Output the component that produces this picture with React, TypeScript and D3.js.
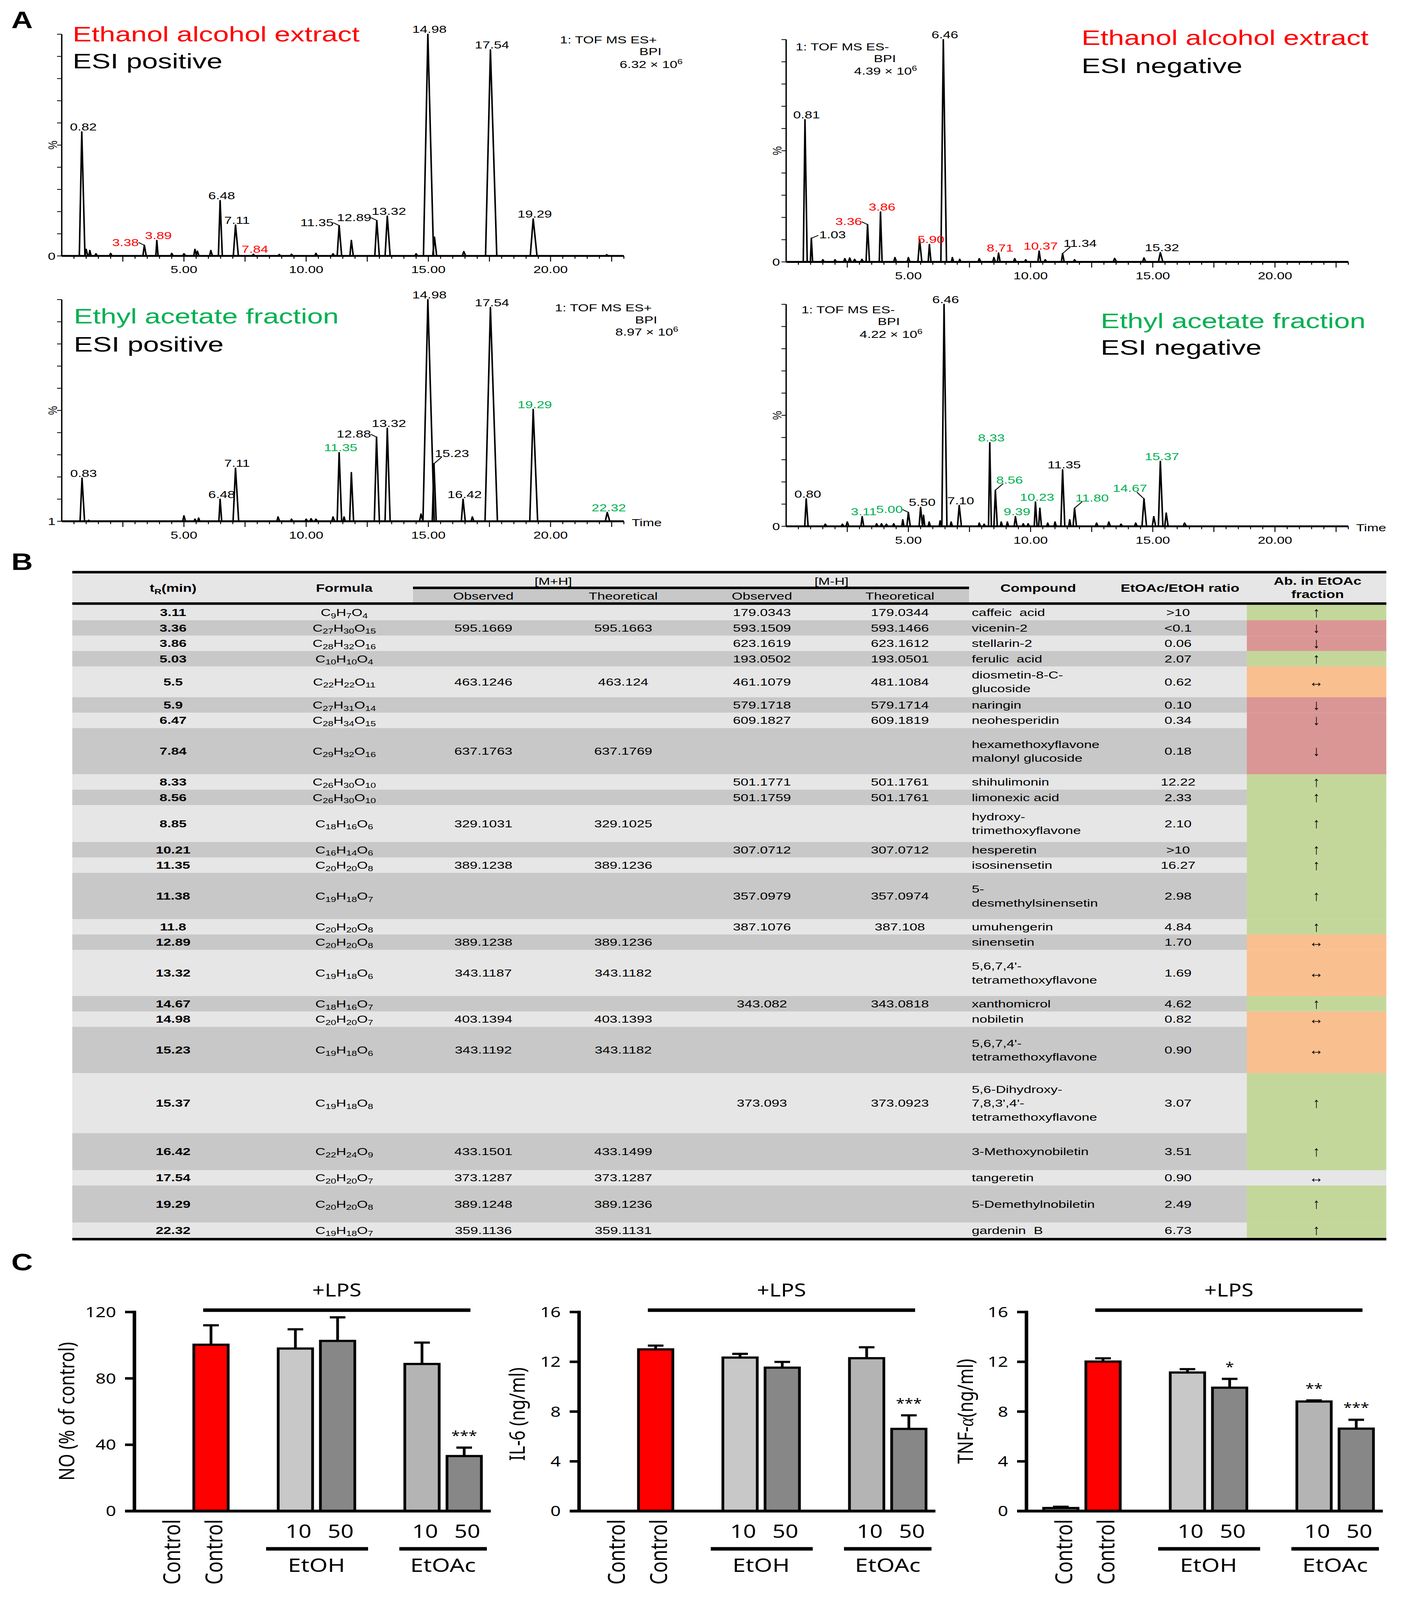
import React from 'react';
import * as d3 from 'd3';

type Peak = [number, number, number]; // retention time (min), relative height, half width (min)
type PeakLabel = [string, string, string?]; // text, colour code, leader style

const SANS = "'Liberation Sans', Arial, sans-serif";
const NOTO = "'Noto Sans', 'Open Sans', sans-serif";
const RED = '#ff0000';
const GREEN = '#00b050';
const SX = 1.1; // source figure is slightly stretched horizontally

// ---------- A: base peak chromatograms ----------
const minutesMax = 23;
const timeTicks = [5, 10, 15, 20];

const posEtOHPeaks: Peak[] = [
  [0.82, 0.56, 0.1], [1.0, 0.03, 0.05], [1.15, 0.025, 0.04], [1.4, 0.01, 0.05], [2.0, 0.012, 0.05],
  [3.38, 0.048, 0.06], [3.89, 0.07, 0.04], [4.5, 0.012, 0.05], [5.0, 0.01, 0.06], [5.45, 0.03, 0.05],
  [5.55, 0.022, 0.05], [6.1, 0.025, 0.05], [6.48, 0.25, 0.07], [7.11, 0.14, 0.09], [7.84, 0.008, 0.05],
  [8.9, 0.007, 0.05], [9.4, 0.008, 0.05], [10.4, 0.012, 0.05], [11.1, 0.01, 0.05], [11.35, 0.137, 0.08],
  [11.85, 0.07, 0.06], [12.89, 0.16, 0.08], [13.32, 0.18, 0.09], [14.5, 0.01, 0.05], [14.98, 1.0, 0.18],
  [15.25, 0.085, 0.07], [16.45, 0.02, 0.06], [17.54, 0.93, 0.2], [19.29, 0.167, 0.12], [22.3, 0.006, 0.05],
];
const posEtOHLabels: PeakLabel[] = [
  ['0.82', 'k'], ['3.38', 'r', 'l'], ['3.89', 'r'], ['6.48', 'k'], ['7.11', 'k'], ['7.84', 'r'],
  ['11.35', 'k', 'l'], ['12.89', 'k', 'l'], ['13.32', 'k'], ['14.98', 'k'], ['17.54', 'k'], ['19.29', 'k'],
];

const negEtOHPeaks: Peak[] = [
  [0.77, 0.64, 0.07], [1.03, 0.107, 0.04], [1.5, 0.01, 0.05], [2.0, 0.01, 0.05], [2.4, 0.015, 0.05],
  [2.6, 0.018, 0.05], [2.8, 0.012, 0.05], [3.1, 0.012, 0.05], [3.33, 0.168, 0.06], [3.86, 0.225, 0.05],
  [4.45, 0.02, 0.05], [5.0, 0.02, 0.05], [5.46, 0.099, 0.07], [5.86, 0.079, 0.05], [6.43, 1.0, 0.1],
  [6.8, 0.02, 0.04], [7.1, 0.012, 0.04], [7.9, 0.015, 0.05], [8.5, 0.02, 0.05], [8.69, 0.04, 0.05],
  [9.35, 0.015, 0.05], [9.8, 0.01, 0.05], [10.35, 0.049, 0.05], [10.6, 0.01, 0.05], [11.31, 0.038, 0.05],
  [11.8, 0.01, 0.05], [13.44, 0.016, 0.06], [14.64, 0.018, 0.06], [15.31, 0.042, 0.08],
];
const negEtOHLabels: PeakLabel[] = [
  ['0.81', 'k'], ['1.03', 'k', 'r'], ['3.36', 'r', 'l'], ['3.86', 'r'], ['5.90', 'r'], ['6.46', 'k'],
  ['8.71', 'r'], ['10.37', 'r'], ['11.34', 'k', 'ur'], ['15.32', 'k'],
];

const posEtOAcPeaks: Peak[] = [
  [0.83, 0.195, 0.08], [1.1, 0.005, 0.04], [5.0, 0.025, 0.05], [5.45, 0.01, 0.04], [5.6, 0.015, 0.04],
  [6.48, 0.1, 0.05], [7.11, 0.24, 0.1], [8.85, 0.02, 0.05], [9.4, 0.01, 0.04], [10.0, 0.01, 0.05],
  [10.2, 0.012, 0.05], [10.4, 0.01, 0.05], [11.1, 0.02, 0.05], [11.35, 0.31, 0.08], [11.55, 0.02, 0.04],
  [11.85, 0.22, 0.07], [12.88, 0.38, 0.09], [13.32, 0.42, 0.09], [14.7, 0.033, 0.06], [14.98, 1.0, 0.2],
  [15.23, 0.26, 0.07], [16.42, 0.1, 0.07], [16.8, 0.02, 0.05], [17.54, 0.965, 0.22], [19.29, 0.505, 0.14],
  [22.32, 0.04, 0.08],
];
const posEtOAcLabels: PeakLabel[] = [
  ['0.83', 'k'], ['6.48', 'k'], ['7.11', 'k'], ['11.35', 'g'], ['12.88', 'k', 'l'], ['13.32', 'k'],
  ['14.98', 'k'], ['15.23', 'k', 'ur'], ['16.42', 'k'], ['17.54', 'k'], ['19.29', 'g'], ['22.32', 'g'],
];

const negEtOAcPeaks: Peak[] = [
  [0.82, 0.124, 0.06], [1.6, 0.01, 0.05], [2.3, 0.01, 0.05], [2.5, 0.02, 0.05], [3.11, 0.044, 0.05],
  [3.7, 0.012, 0.04], [3.9, 0.012, 0.04], [4.1, 0.01, 0.04], [4.4, 0.012, 0.04], [4.77, 0.03, 0.04],
  [5.0, 0.063, 0.06], [5.5, 0.086, 0.06], [5.62, 0.05, 0.04], [5.85, 0.02, 0.04], [6.3, 0.025, 0.04],
  [6.46, 1.0, 0.09], [6.75, 0.02, 0.04], [7.08, 0.094, 0.07], [7.9, 0.015, 0.04], [8.1, 0.01, 0.04],
  [8.33, 0.377, 0.05], [8.56, 0.163, 0.06], [8.8, 0.02, 0.04], [9.05, 0.02, 0.04], [9.38, 0.044, 0.05],
  [9.7, 0.012, 0.04], [9.9, 0.012, 0.04], [10.2, 0.11, 0.05], [10.38, 0.082, 0.05], [10.7, 0.015, 0.04],
  [11.0, 0.02, 0.04], [11.31, 0.255, 0.07], [11.6, 0.03, 0.04], [11.8, 0.082, 0.06], [12.7, 0.015, 0.05],
  [13.2, 0.02, 0.05], [13.7, 0.01, 0.05], [14.3, 0.015, 0.05], [14.64, 0.124, 0.08], [15.04, 0.044, 0.06],
  [15.31, 0.293, 0.08], [15.55, 0.06, 0.06], [16.3, 0.015, 0.06],
];
const negEtOAcLabels: PeakLabel[] = [
  ['0.80', 'k'], ['3.11', 'g'], ['5.00', 'g', 'l'], ['5.50', 'k'], ['6.46', 'k'], ['7.10', 'k'],
  ['8.33', 'g'], ['8.56', 'g', 'ur'], ['9.39', 'g'], ['10.23', 'g'], ['11.35', 'k'], ['11.80', 'g', 'ur'],
  ['14.67', 'g', 'ul'], ['15.37', 'g'],
];

// ---------- B: table ----------
const rtValues = ['3.11', '3.36', '3.86', '5.03', '5.5', '5.9', '6.47', '7.84', '8.33', '8.56', '8.85', '10.21', '11.35', '11.38', '11.8', '12.89', '13.32', '14.67', '14.98', '15.23', '15.37', '16.42', '17.54', '19.29', '22.32'];
const formulas = ['C9H7O4', 'C27H30O15', 'C28H32O16', 'C10H10O4', 'C22H22O11', 'C27H31O14', 'C28H34O15', 'C29H32O16', 'C26H30O10', 'C26H30O10', 'C18H16O6', 'C16H14O6', 'C20H20O8', 'C19H18O7', 'C20H20O8', 'C20H20O8', 'C19H18O6', 'C18H16O7', 'C20H20O7', 'C19H18O6', 'C19H18O8', 'C22H24O9', 'C20H20O7', 'C20H20O8', 'C19H18O7'];
const mhObserved = ['', '595.1669', '', '', '463.1246', '', '', '637.1763', '', '', '329.1031', '', '389.1238', '', '', '389.1238', '343.1187', '', '403.1394', '343.1192', '', '433.1501', '373.1287', '389.1248', '359.1136'];
const mhTheoretical = ['', '595.1663', '', '', '463.124', '', '', '637.1769', '', '', '329.1025', '', '389.1236', '', '', '389.1236', '343.1182', '', '403.1393', '343.1182', '', '433.1499', '373.1287', '389.1236', '359.1131'];
const mmhObserved = ['179.0343', '593.1509', '623.1619', '193.0502', '461.1079', '579.1718', '609.1827', '', '501.1771', '501.1759', '', '307.0712', '', '357.0979', '387.1076', '', '', '343.082', '', '', '373.093', '', '', '', ''];
const mmhTheoretical = ['179.0344', '593.1466', '623.1612', '193.0501', '481.1084', '579.1714', '609.1819', '', '501.1761', '501.1761', '', '307.0712', '', '357.0974', '387.108', '', '', '343.0818', '', '', '373.0923', '', '', '', ''];
const compounds = ['caffeic  acid', 'vicenin-2', 'stellarin-2', 'ferulic  acid', 'diosmetin-8-C-\nglucoside', 'naringin', 'neohesperidin', 'hexamethoxyflavone\nmalonyl glucoside', 'shihulimonin', 'limonexic acid', 'hydroxy-\ntrimethoxyflavone', 'hesperetin', 'isosinensetin', '5-\ndesmethylsinensetin', 'umuhengerin', 'sinensetin', "5,6,7,4'-\ntetramethoxyflavone", 'xanthomicrol', 'nobiletin', "5,6,7,4'-\ntetramethoxyflavone", "5,6-Dihydroxy-\n7,8,3',4'-\ntetramethoxyflavone", '3-Methoxynobiletin', 'tangeretin', '5-Demethylnobiletin', 'gardenin  B'];
const ratios = ['>10', '<0.1', '0.06', '2.07', '0.62', '0.10', '0.34', '0.18', '12.22', '2.33', '2.10', '>10', '16.27', '2.98', '4.84', '1.70', '1.69', '4.62', '0.82', '0.90', '3.07', '3.51', '0.90', '2.49', '6.73'];
const abundance = ['up', 'down', 'down', 'up', 'same', 'down', 'down', 'down', 'up', 'up', 'up', 'up', 'up', 'up', 'up', 'same', 'same', 'up', 'same', 'same', 'up', 'up', 'flat', 'up', 'up'];

// ---------- C: bar charts ----------
const slots = ['Control', 'LPS', 'gap1', 'EtOH 10', 'EtOH 50', 'gap2', 'EtOAc 10', 'EtOAc 50'];
const treatments = ['Control', 'LPS', 'EtOH 10', 'EtOH 50', 'EtOAc 10', 'EtOAc 50'];
const noMean = [0, 100.3, 98.0, 102.6, 88.7, 33.2];
const noErr = [0, 11.7, 11.6, 14.2, 12.9, 5.1];
const noSig = ['', '', '', '', '', '***'];
const il6Mean = [0, 13.0, 12.34, 11.53, 12.29, 6.61];
const il6Err = [0, 0.3, 0.3, 0.46, 0.88, 1.09];
const il6Sig = ['', '', '', '', '', '***'];
const tnfMean = [0.25, 12.02, 11.14, 9.92, 8.81, 6.63];
const tnfErr = [0.1, 0.26, 0.27, 0.71, 0.09, 0.71];
const tnfSig = ['', '', '', '*', '**', '***'];

const barFill: Record<string, string> = {
  Control: '#8a8a8a', LPS: RED, 'EtOH 10': '#c8c8c8', 'EtOH 50': '#878787', 'EtOAc 10': '#b4b4b4', 'EtOAc 50': '#878787',
};

function Txt({ x, y, children, size = 32, anchor = 'start', fill = '#000', weight = 'normal', sx = SX, family = SANS, rotate = 0, baseline }: any) {
  const t = `translate(${x},${y})` + (rotate ? ` rotate(${rotate})` : '') + (sx !== 1 ? ` scale(${sx},1)` : '');
  return (
    <text transform={t} fontSize={size} textAnchor={anchor} fill={fill} fontWeight={weight} fontFamily={family} dominantBaseline={baseline}>
      {children}
    </text>
  );
}

interface ChromProps {
  x0: number; y0: number; yTop: number;
  peaks: Peak[]; labels: PeakLabel[];
  zero: string;
  title: string; titleColor: string; subtitle: string; titleX: number; titleY: number; subY: number;
  mode: string; bpi: string; infoX: number[]; infoY: number[];
  time?: boolean;
}

const colourOf = (c: string) => (c === 'r' ? RED : c === 'g' ? GREEN : '#000');

function Chromatogram(p: ChromProps) {
  const x = d3.scaleLinear().domain([0, minutesMax]).range([p.x0, p.x0 + minutesMax * 62.55]);
  const y = d3.scaleLinear().domain([0, 1]).range([p.y0, p.yTop]);
  const line = d3.line<[number, number]>().x(d => x(d[0])).y(d => y(d[1]));
  const halfMin = d3.range(1, minutesMax * 2 + 1);
  const yt = d3.range(0, 11).map(i => i / 10);
  return (
    <g>
      {p.peaks.map(([t, h, w], i) => (
        <path key={i} d={line([[t - w, 0], [t, h], [t + w * 1.3, 0]]) || ''} fill="none" stroke="#000" strokeWidth={4} strokeLinejoin="round" />
      ))}
      <line x1={p.x0} x2={x(minutesMax)} y1={p.y0} y2={p.y0} stroke="#000" strokeWidth={6} />
      <line x1={p.x0} x2={p.x0} y1={p.yTop} y2={p.y0} stroke="#000" strokeWidth={3.5} />
      {halfMin.map(i => (
        <line key={i} x1={x(i / 2)} x2={x(i / 2)} y1={p.y0} y2={p.y0 + (i % 5 === 0 ? 18 : 9)} stroke="#000" strokeWidth={2.5} />
      ))}
      {yt.map(v => (
        <line key={v} x1={p.x0 - 12} x2={p.x0} y1={y(v)} y2={y(v)} stroke="#000" strokeWidth={2.5} />
      ))}
      {timeTicks.map(t => (
        <Txt key={t} x={x(t)} y={p.y0 + 55} anchor="middle">{t.toFixed(2)}</Txt>
      ))}
      <Txt x={p.x0 - 16} y={p.y0 + 12} anchor="end">{p.zero}</Txt>
      <Txt x={p.x0 - 12} y={(p.y0 + p.yTop) / 2} anchor="middle" rotate={-90} sx={1}>%</Txt>
      {p.time && <Txt x={x(minutesMax) + 20} y={p.y0 + 16}>Time</Txt>}

      {p.labels.map(([txt, c, lead], i) => {
        const v = +txt;
        const pk = p.peaks.reduce((a, b) => (Math.abs(b[0] - v) < Math.abs(a[0] - v) ? b : a));
        const px = x(pk[0]);
        const py = y(pk[1]);
        let tx = px + 4;
        let ty = py - 4;
        let anchor = 'middle';
        let ln: number[] | null = null;
        if (lead === 'l') { tx = px - 14; ty = py + 2; anchor = 'end'; ln = [px - 15, py - 9, px, py]; }
        if (lead === 'r') { tx = px + 20; ty = py; anchor = 'start'; ln = [px + 1, py, px + 18, py - 9]; }
        if (lead === 'ur') { tx = px + 2; ty = py - 21; anchor = 'start'; ln = [px, py, px + 20, py - 21]; }
        if (lead === 'ul') { tx = px + 8; ty = py - 22; anchor = 'end'; ln = [px, py, px - 18, py - 21]; }
        return (
          <g key={i}>
            {ln && <line x1={ln[0]} y1={ln[1]} x2={ln[2]} y2={ln[3]} stroke="#000" strokeWidth={2.5} />}
            <Txt x={tx} y={ty} anchor={anchor} fill={colourOf(c)}>{txt}</Txt>
          </g>
        );
      })}

      <Txt x={p.titleX} y={p.titleY} size={66} fill={p.titleColor}>{p.title}</Txt>
      <Txt x={p.titleX} y={p.subY} size={66}>{p.subtitle}</Txt>
      <Txt x={p.infoX[0]} y={p.infoY[0]}>{p.mode}</Txt>
      <Txt x={p.infoX[1]} y={p.infoY[1]} anchor="end">BPI</Txt>
      <Txt x={p.infoX[2]} y={p.infoY[2]} anchor="end">
        {p.bpi} × 10<tspan fontSize={22} dy={-13}>6</tspan>
      </Txt>
    </g>
  );
}

// ---------- table helpers ----------
const TSX = 1.08;
const FS = 33;

function Formula({ f }: { f: string }) {
  const parts = f.match(/[A-Z][a-z]?|\d+/g) || [];
  return (
    <>
      {parts.map((s, i) => {
        const sub = /\d/.test(s);
        const prevSub = i > 0 && /\d/.test(parts[i - 1]);
        return (
          <tspan key={i} fontSize={sub ? 23 : FS} dy={sub ? 7 : prevSub ? -7 : 0}>{s}</tspan>
        );
      })}
    </>
  );
}

const rowUnits = [1, 1, 1, 1, 2, 1, 1, 3, 1, 1, 2.4, 1, 1, 3, 1, 1, 3, 1, 1, 3, 3.9, 2.4, 1, 2.4, 1];
const abFill: Record<string, string> = { up: '#c4d79b', down: '#da9694', same: '#fabf8f', flat: 'none' };
const abArrow: Record<string, string> = { up: '↑', down: '↓', same: '↔', flat: '↔' };

function Table() {
  const left = 185;
  const right = 3548;
  const U = 49.05;
  const top = 1926;
  const starts = [0, ...Array.from(d3.cumsum(rowUnits))];
  const col = { rt: 443, formula: 881, obsP: 1237, theoP: 1595, obsN: 1950, theoN: 2303, compound: 2487, ratio: 3015, ab: 3369, abLeft: 3191 };
  const tableBottom = top + starts[rowUnits.length] * U;
  return (
    <g>
      <rect x={left} y={1826} width={right - left} height={92} fill="#e6e6e6" />
      <rect x={1057} y={1876} width={2480 - 1057} height={42} fill="#c8c8c8" />
      {rtValues.map((_, i) => {
        const y0 = top + starts[i] * U;
        const h = rowUnits[i] * U;
        return (
          <g key={i}>
            <rect x={left} y={y0} width={right - left} height={h + 0.5} fill={i % 2 === 0 ? '#e6e6e6' : '#c8c8c8'} />
            {abFill[abundance[i]] !== 'none' && (
              <rect x={col.abLeft} y={y0} width={right - col.abLeft} height={h + 0.5} fill={abFill[abundance[i]]} />
            )}
          </g>
        );
      })}
      <rect x={left} y={1818} width={right - left} height={8} fill="#000" />
      <rect x={left} y={1918} width={right - left} height={8} fill="#000" />
      <rect x={1057} y={1868} width={2480 - 1057} height={8} fill="#000" />
      <rect x={left} y={tableBottom} width={right - left} height={8} fill="#000" />

      <Txt x={col.rt} y={1885} size={34} weight="bold" anchor="middle" sx={TSX}>
        <tspan>t</tspan><tspan fontSize={23} dy={7}>R</tspan><tspan dy={-7}>(min)</tspan>
      </Txt>
      <Txt x={col.formula} y={1885} size={34} weight="bold" anchor="middle" sx={TSX}>Formula</Txt>
      <Txt x={1416} y={1862} size={FS} anchor="middle" sx={TSX}>[M+H]</Txt>
      <Txt x={2128} y={1862} size={FS} anchor="middle" sx={TSX}>[M-H]</Txt>
      <Txt x={col.obsP} y={1909} size={FS} anchor="middle" sx={TSX}>Observed</Txt>
      <Txt x={col.theoP} y={1909} size={FS} anchor="middle" sx={TSX}>Theoretical</Txt>
      <Txt x={col.obsN} y={1909} size={FS} anchor="middle" sx={TSX}>Observed</Txt>
      <Txt x={col.theoN} y={1909} size={FS} anchor="middle" sx={TSX}>Theoretical</Txt>
      <Txt x={2657} y={1885} size={34} weight="bold" anchor="middle" sx={TSX}>Compound</Txt>
      <Txt x={3020} y={1885} size={34} weight="bold" anchor="middle" sx={TSX}>EtOAc/EtOH  ratio</Txt>
      <Txt x={3372} y={1862} size={34} weight="bold" anchor="middle" sx={TSX}>Ab. in EtOAc</Txt>
      <Txt x={3372} y={1905} size={34} weight="bold" anchor="middle" sx={TSX}>fraction</Txt>

      {rtValues.map((rt, i) => {
        const cy = top + (starts[i] + rowUnits[i] / 2) * U;
        const by = cy + 11.5;
        const lines = compounds[i].split('\n');
        return (
          <g key={i}>
            <Txt x={col.rt} y={by} size={FS} weight="bold" anchor="middle" sx={TSX}>{rt}</Txt>
            <Txt x={col.formula} y={by} size={FS} anchor="middle" sx={TSX}><Formula f={formulas[i]} /></Txt>
            <Txt x={col.obsP} y={by} size={FS} anchor="middle" sx={TSX}>{mhObserved[i]}</Txt>
            <Txt x={col.theoP} y={by} size={FS} anchor="middle" sx={TSX}>{mhTheoretical[i]}</Txt>
            <Txt x={col.obsN} y={by} size={FS} anchor="middle" sx={TSX}>{mmhObserved[i]}</Txt>
            <Txt x={col.theoN} y={by} size={FS} anchor="middle" sx={TSX}>{mmhTheoretical[i]}</Txt>
            {lines.map((l, k) => (
              <Txt key={k} x={col.compound} y={by + (k - (lines.length - 1) / 2) * 44} size={FS} sx={TSX}>
                <tspan style={{ whiteSpace: 'pre' }}>{l}</tspan>
              </Txt>
            ))}
            <Txt x={col.ratio} y={by} size={FS} anchor="middle" sx={TSX}>{ratios[i]}</Txt>
            <Txt x={col.ab} y={cy + 15} size={46} anchor="middle" sx={0.8}>{abArrow[abundance[i]]}</Txt>
          </g>
        );
      })}
    </g>
  );
}

// ---------- bar chart ----------
interface BarProps {
  axisX: number; yMax: number; ticks: number[];
  means: number[]; errs: number[]; sig: string[];
  yLabel: React.ReactNode; labelX: number; labelY: number;
}

function BarChart({ axisX, yMax, ticks, means, errs, sig, yLabel, labelX, labelY }: BarProps) {
  const base = 4812;
  const y = d3.scaleLinear().domain([0, yMax]).range([base, 4178]);
  const xb = d3.scaleBand<string>().domain(slots).range([axisX + 34, axisX + 898]).paddingInner(0.12).paddingOuter(0.06);
  const bw = xb.bandwidth();
  const cx = (k: string) => (xb(k) as number) + bw / 2;
  const sw = 7;
  const lpsL = cx('LPS') - 20;
  const lpsR = cx('EtOAc 50') + 16;
  return (
    <g fontFamily={NOTO}>
      {treatments.map((k, i) => {
        const top = y(means[i] + errs[i]);
        return (
          <g key={k}>
            {errs[i] > 0 && (
              <g stroke="#000" strokeWidth={sw}>
                <line x1={cx(k)} x2={cx(k)} y1={y(means[i])} y2={top} />
                <line x1={cx(k) - 20} x2={cx(k) + 20} y1={top} y2={top} />
              </g>
            )}
            {means[i] > 0 && (
              <rect x={(xb(k) as number) + sw / 2} y={y(means[i])} width={bw - sw} height={base - y(means[i])} fill={barFill[k]} stroke="#000" strokeWidth={sw} />
            )}
            {sig[i] && (
              <Txt x={cx(k)} y={top - 24} size={40} anchor="middle" family={NOTO} sx={1}>{sig[i]}</Txt>
            )}
          </g>
        );
      })}
      <line x1={axisX} x2={axisX} y1={y(yMax) - 4} y2={base + 4} stroke="#000" strokeWidth={9} />
      <line x1={axisX - 24} x2={cx('EtOAc 50') + 68} y1={base} y2={base} stroke="#000" strokeWidth={9} />
      {ticks.map(t => (
        <g key={t}>
          <line x1={axisX - 24} x2={axisX} y1={y(t)} y2={y(t)} stroke="#000" strokeWidth={8} />
          <Txt x={axisX - 47} y={y(t) + 16} size={46} anchor="end" family={NOTO} sx={1}>{t}</Txt>
        </g>
      ))}
      <Txt x={labelX} y={labelY} size={55} anchor="middle" family={NOTO} sx={1} rotate={-90}>{yLabel}</Txt>

      <line x1={lpsL} x2={lpsR} y1={4172} y2={4172} stroke="#000" strokeWidth={11} />
      <Txt x={(lpsL + lpsR) / 2} y={4128} size={56} anchor="middle" family={NOTO} sx={1}>+LPS</Txt>

      {['Control', 'LPS'].map(k => (
        <Txt key={k} x={cx(k) + 6} y={4838} size={60} anchor="end" family={NOTO} sx={1} rotate={-90} baseline="central">Control</Txt>
      ))}
      {['EtOH 10', 'EtOH 50', 'EtOAc 10', 'EtOAc 50'].map(k => (
        <Txt key={k} x={cx(k) + 8} y={4897} size={58} anchor="middle" family={NOTO} sx={1}>{k.split(' ')[1]}</Txt>
      ))}
      <line x1={cx('EtOH 10') - 75} x2={cx('EtOH 50') + 78} y1={4932} y2={4932} stroke="#000" strokeWidth={11} />
      <line x1={cx('EtOAc 10') - 58} x2={cx('EtOAc 50') + 58} y1={4932} y2={4932} stroke="#000" strokeWidth={11} />
      <Txt x={(cx('EtOH 10') + cx('EtOH 50')) / 2} y={5006} size={60} anchor="middle" family={NOTO} sx={1}>EtOH</Txt>
      <Txt x={(cx('EtOAc 10') + cx('EtOAc 50')) / 2} y={5006} size={60} anchor="middle" family={NOTO} sx={1}>EtOAc</Txt>
    </g>
  );
}

export default function App() {
  // The figure is drawn in the reference's 3606×5095 frame and fitted into the visible viewport,
  // because the browser screen is capped below the full figure height.
  return (
    <div>
      <style>{'html, body { margin: 0; padding: 0; background: #fff; overflow: hidden; }'}</style>
      <svg viewBox="0 0 3606 5095" preserveAspectRatio="none" style={{ display: 'block', width: '100vw', height: '100vh', background: '#fff' }}>
        <rect width={3606} height={5095} fill="#fff" />
        <Txt x={29} y={89} size={76} weight="bold" sx={1}>A</Txt>
        <Txt x={29} y={1815} size={76} weight="bold" sx={1}>B</Txt>
        <Txt x={29} y={4045} size={76} weight="bold" sx={1}>C</Txt>

        <Chromatogram x0={158} y0={815} yTop={109} peaks={posEtOHPeaks} labels={posEtOHLabels} zero="0"
          title="Ethanol alcohol extract" titleColor={RED} subtitle="ESI positive" titleX={186} titleY={132} subY={218}
          mode="1: TOF  MS ES+" bpi="6.32" infoX={[1433, 1693, 1747]} infoY={[138, 175, 217]} />
        <Chromatogram x0={2012} y0={834} yTop={126} peaks={negEtOHPeaks} labels={negEtOHLabels} zero="0"
          title="Ethanol alcohol extract" titleColor={RED} subtitle="ESI negative" titleX={2768} titleY={143} subY={232}
          mode="1: TOF MS ES-" bpi="4.39" infoX={[2036, 2293, 2347]} infoY={[160, 198, 238]} />
        <Chromatogram x0={158} y0={1660} yTop={954} peaks={posEtOAcPeaks} labels={posEtOAcLabels} zero="1"
          title="Ethyl acetate fraction" titleColor={GREEN} subtitle="ESI positive" titleX={189} titleY={1030} subY={1120}
          mode="1: TOF  MS ES+" bpi="8.97" infoX={[1420, 1682, 1736]} infoY={[992, 1030, 1069]} time />
        <Chromatogram x0={2012} y0={1676} yTop={969} peaks={negEtOAcPeaks} labels={negEtOAcLabels} zero="0"
          title="Ethyl acetate fraction" titleColor={GREEN} subtitle="ESI negative" titleX={2817} titleY={1045} subY={1130}
          mode="1: TOF MS ES-" bpi="4.22" infoX={[2051, 2303, 2361]} infoY={[998, 1035, 1076]} time />

        <Table />

        <BarChart axisX={344} yMax={120} ticks={[0, 40, 80, 120]} means={noMean} errs={noErr} sig={noSig}
          yLabel="NO (% of control)" labelX={190} labelY={4494} />
        <BarChart axisX={1482} yMax={16} ticks={[0, 4, 8, 12, 16]} means={il6Mean} errs={il6Err} sig={il6Sig}
          yLabel="IL-6 (ng/ml)" labelX={1343} labelY={4503} />
        <BarChart axisX={2627} yMax={16} ticks={[0, 4, 8, 12, 16]} means={tnfMean} errs={tnfErr} sig={tnfSig}
          yLabel={<>TNF-<tspan fontFamily="'Liberation Serif', serif" fontStyle="italic">α</tspan>(ng/ml)</>} labelX={2490} labelY={4494} />
      </svg>
    </div>
  );
}
